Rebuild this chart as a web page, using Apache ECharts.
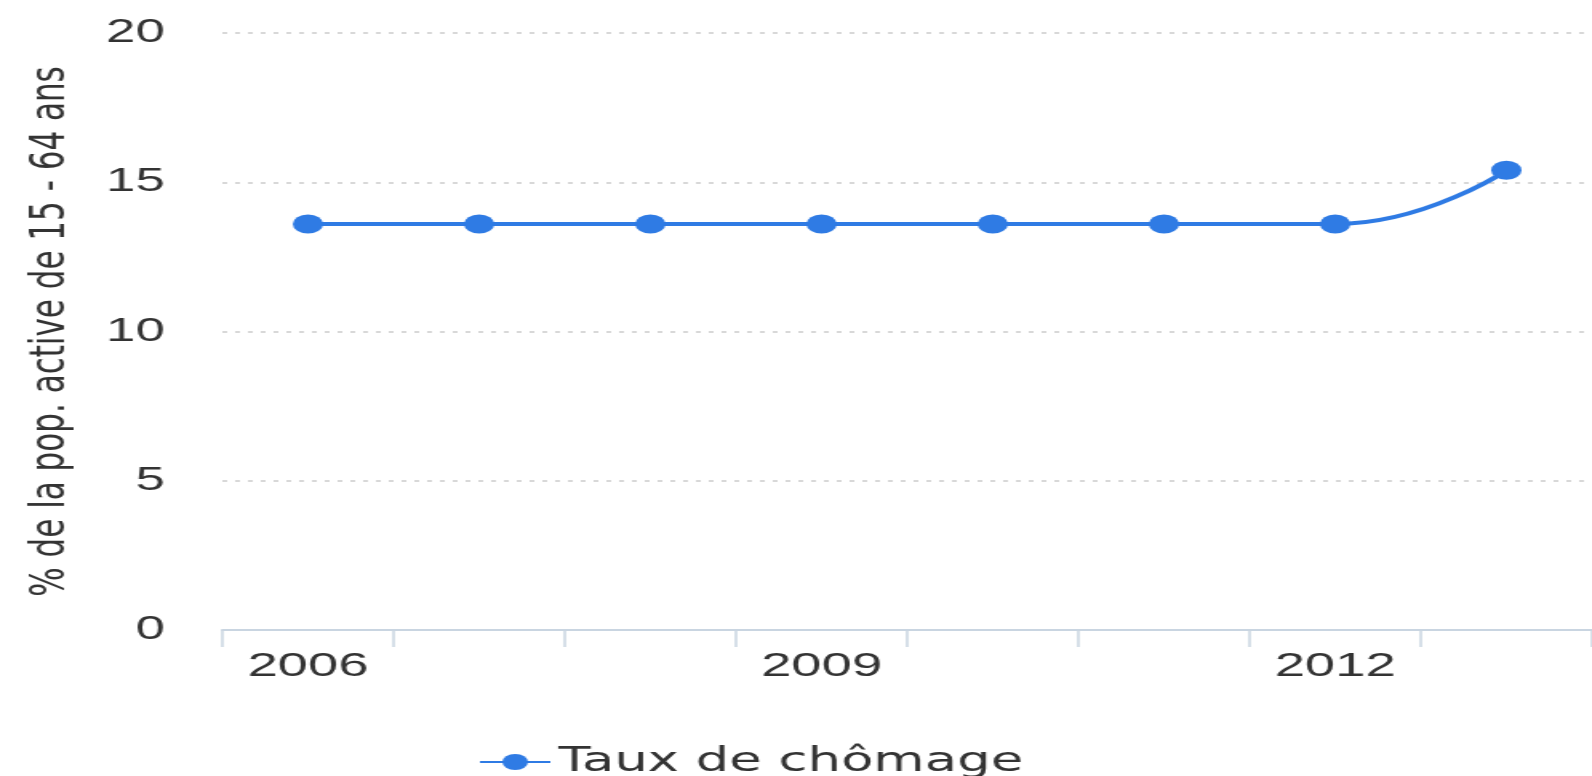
<!DOCTYPE html>
<html>
<head>
<meta charset="utf-8">
<script src="https://cdn.jsdelivr.net/npm/echarts@6/dist/echarts.min.js"></script>
<style>
  html, body { margin: 0; padding: 0; background: #ffffff; overflow: hidden; }
  #wrap { width: 995px; height: 776px; transform: scaleX(1.6); transform-origin: 0 0; }
</style>
</head>
<body>
<div id="wrap"></div>
<script>
// Unemployment rate, % of the active population aged 15-64
const years = ['2006', '2007', '2008', '2009', '2010', '2011', '2012', '2013'];
const tauxChomage = [13.6, 13.6, 13.6, 13.6, 13.6, 13.6, 13.6, 15.4];
const yTicks = { min: 0, max: 20, interval: 5 };
const seriesName = 'Taux de chômage';
const yAxisTitle = '% de la pop. active de 15 - 64 ans';

const blue = '#2f7be4';
const chart = echarts.init(document.getElementById('wrap'), null, { renderer: 'canvas' });

chart.setOption({
  backgroundColor: '#ffffff',
  animation: false,
  grid: { left: 139, right: 0, top: 33, bottom: 146, containLabel: false },
  legend: {
    left: 294,
    top: 740,
    itemWidth: 44,
    itemHeight: 20,
    itemGap: 20,
    textStyle: { fontFamily: 'DejaVu Sans', fontSize: 33, color: '#333', lineHeight: 34 },
    data: [seriesName]
  },
  xAxis: {
    type: 'category',
    data: years,
    boundaryGap: true,
    axisLine: { show: true, lineStyle: { color: '#c9d5e1', width: 2 } },
    axisTick: { show: true, interval: 0, length: 17, lineStyle: { color: '#c9d5e1', width: 1.5 } },
    axisLabel: { interval: 2, margin: 20, fontFamily: 'Liberation Sans', fontSize: 34, color: '#333' },
    splitLine: { show: false }
  },
  yAxis: {
    type: 'value',
    min: yTicks.min,
    max: yTicks.max,
    interval: yTicks.interval,
    name: yAxisTitle,
    nameLocation: 'middle',
    nameGap: 92,
    nameTextStyle: { fontFamily: 'DejaVu Sans', fontSize: 31, color: '#333' },
    axisLine: { show: false },
    axisTick: { show: false },
    axisLabel: { margin: 36, fontFamily: 'Liberation Sans', fontSize: 33, color: '#333' },
    splitLine: { show: true, lineStyle: { color: '#d8d8d8', width: 2, type: [3, 5] } }
  },
  series: [{
    name: seriesName,
    type: 'line',
    data: tauxChomage,
    smooth: true,
    symbol: 'circle',
    symbolSize: 19,
    showSymbol: true,
    itemStyle: { color: blue },
    lineStyle: { color: blue, width: 4 }
  }]
});
</script>
</body>
</html>
